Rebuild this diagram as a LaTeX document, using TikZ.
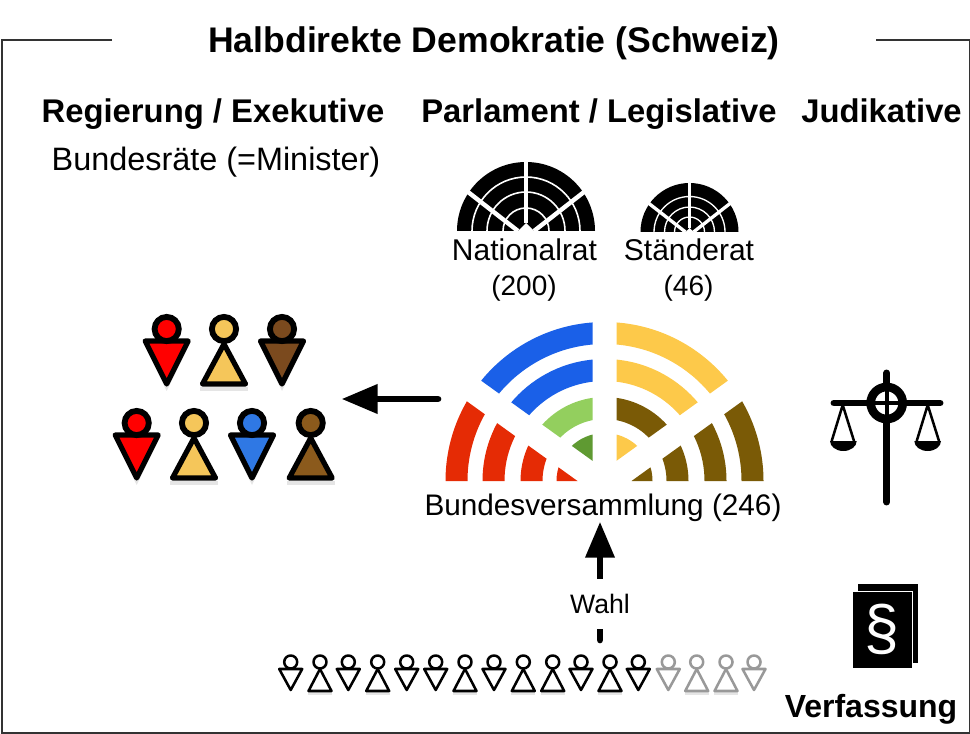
\documentclass[tikz,border=0pt]{standalone}
\usepackage{fontspec}
\setmainfont{Liberation Sans}
\usetikzlibrary{arrows.meta}
\definecolor{cblue}{HTML}{1A60E8}
\definecolor{cyel}{HTML}{FDC94A}
\definecolor{cgreen}{HTML}{93CF5E}
\definecolor{cdgreen}{HTML}{5F9A32}
\definecolor{cbrown}{HTML}{7A5A06}
\definecolor{cred}{HTML}{E52B05}
\definecolor{pred}{HTML}{FF0000}
\definecolor{pyel}{HTML}{F5C65A}
\definecolor{pbrown}{HTML}{7B4A1E}
\definecolor{pbrownb}{HTML}{8B5A1C}
\definecolor{pblue}{HTML}{2F78E4}
\definecolor{vgrey}{HTML}{999999}
\tikzset{
  lbl/.style={inner sep=0pt,font=\fontsize{22.5}{26}\selectfont},
  hdr/.style={inner sep=0pt,font=\fontsize{24.6}{28}\selectfont\bfseries},
  bigarrow/.style={line width=5pt,line cap=round,-{Triangle[length=27pt,width=21pt]}},
  bigfig/.style={line width=3.9pt,line join=round},
  bighead/.style={line width=4.4pt},
  smallfig/.style={line width=1.9pt,line join=round,fill=white},
  softshadow/.style={draw=none,fill=black,opacity=0.10},
}
% ring sector helper
\newcommand{\annul}[4]{\fill[#4,even odd rule] (#1) circle[radius=#2] (#1) circle[radius=#3];}
% persons: x,y,colour,style
\newcommand{\pdown}[4]{\begin{scope}[shift={(#1,#2)}]
 \fill[softshadow] (-23,15)--(23,15)--(0,62)--cycle;
 \draw[#4,fill=#3] (-21.5,12)--(21.5,12)--(0,55)--cycle;
 \draw[bighead,fill=#3] (0,0) circle[radius=12.1];\end{scope}}
\newcommand{\pup}[4]{\begin{scope}[shift={(#1,#2)}]
 \fill[softshadow] (-24,58)--(24,58)--(24,62)--(-24,62)--cycle;
 \draw[#4,fill=#3] (0,15)--(-21.5,55)--(21.5,55)--cycle;
 \draw[bighead,fill=#3] (0,0) circle[radius=12.1];\end{scope}}
\newcommand{\vdown}[2]{\begin{scope}[shift={(#1,662)}]
 \draw[smallfig,draw=#2] (-11.5,7)--(11.5,7)--(0,28)--cycle;
 \draw[smallfig,draw=#2] (0,0) circle[radius=6.5];\end{scope}}
\newcommand{\vup}[2]{\begin{scope}[shift={(#1,662)}]
 \fill[softshadow] (-12,30)--(12,30)--(12,33)--(-12,33)--cycle;
 \draw[smallfig,draw=#2] (0,7)--(-11.5,29)--(11.5,29)--cycle;
 \draw[smallfig,draw=#2] (0,0) circle[radius=6.5];\end{scope}}
% black hemicycle: cx, base y, R, r1,r2,r3, spoke foot, spoke width, ring width
\newcommand{\hemi}[9]{\begin{scope}[shift={(#1,#2)}]
 \begin{scope}
 \clip (-#3,0) rectangle (#3,-#3);
 \fill[black] (0,0) circle[radius=#3];
 \draw[white,line width=#9] (0,0) circle[radius=#4] (0,0) circle[radius=#5] (0,0) circle[radius=#6];
 \draw[white,line width=#8] (0,-#3) -- (0,-#7);
 \draw[white,line width=#8] (-#7,0) -- ++(-#3,-0.78*#3);
 \draw[white,line width=#8] (#7,0) -- ++(#3,-0.78*#3);
 \fill[white] (-#7,0) -- (#7,0) -- (0,-#7) -- cycle;
 \end{scope}\end{scope}}
\begin{document}
\begin{tikzpicture}[x=0.75pt,y=-0.75pt]
\useasboundingbox (0,0) rectangle (970,734);
% frame
\coordinate (fa) at (112,40); \coordinate (fb) at (2,40); \coordinate (fc) at (2,733);
\coordinate (fd) at (969.5,733); \coordinate (fe) at (969.5,40); \coordinate (ff) at (876,40);
\draw[line width=0.9pt,black!80] (fa)--(fb)--(fc)--(fd)--(fe)--(ff);
% texts
\node[hdr,font=\fontsize{26.7}{30}\selectfont\bfseries] (title) at (494,43.5) {Halbdirekte Demokratie (Schweiz)};
\node[hdr] (exe) at (213,114) {Regierung / Exekutive};
\node[hdr] (leg) at (599,114) {Parlament / Legislative};
\node[hdr] (jud) at (881.5,111) {Judikative};
\node[lbl,font=\fontsize{24.3}{28}\selectfont] (minister) at (216,162) {Bundesräte (=Minister)};
\node[lbl] (nr) at (524.5,250) {Nationalrat};
\node[lbl,font=\fontsize{21}{24}\selectfont] (nrn) at (524,288) {(200)};
\node[lbl] (sr) at (689,250) {Ständerat};
\node[lbl,font=\fontsize{21}{24}\selectfont] (srn) at (688.5,288) {(46)};
\node[lbl,font=\fontsize{22.3}{26}\selectfont] (bv) at (603,507.5) {Bundesversammlung (246)};
\node[hdr,font=\fontsize{24}{28}\selectfont\bfseries] (verf) at (871,709) {Verfassung};
% small hemicycles
\hemi{526}{231}{69}{54}{39}{23}{8}{3.3pt}{1.2pt}
\hemi{689.5}{232}{49}{35.5}{25}{15}{4}{2.5pt}{1pt}
% Bundesversammlung
\begin{scope}[shift={(604.5,481)}]
 \begin{scope}
  \clip (-27,0) -- (-200,0) -- (-200,-124.6) -- cycle;
  \annul{0,0}{159}{137}{cred}\annul{0,0}{122}{100}{cred}\annul{0,0}{84}{62}{cred}\annul{0,0}{48}{1}{cred}
 \end{scope}
 \begin{scope}
  \clip (27,0) -- (200,0) -- (200,-124.6) -- cycle;
  \annul{0,0}{159}{137}{cbrown}\annul{0,0}{122}{100}{cbrown}\annul{0,0}{84}{62}{cbrown}\annul{0,0}{48}{1}{cbrown}
 \end{scope}
 \begin{scope}
  \clip (-12,-20.2) -- (-12,-200) -- (-200,-200) -- (-200,-155.5) -- cycle;
  \annul{0,0}{159}{137}{cblue}\annul{0,0}{122}{100}{cblue}\annul{0,0}{84}{62}{cgreen}\annul{0,0}{48}{1}{cdgreen}
 \end{scope}
 \begin{scope}
  \clip (12,-20.2) -- (12,-200) -- (200,-200) -- (200,-155.5) -- cycle;
  \annul{0,0}{159}{137}{cyel}\annul{0,0}{122}{100}{cyel}\annul{0,0}{84}{62}{cbrown}\annul{0,0}{48}{1}{cyel}
 \end{scope}
\end{scope}
% arrows
\coordinate (parl) at (438,399); \coordinate (gov) at (341.5,399);
\draw[bigarrow] (parl) -- (gov);
\coordinate (votebase) at (600,640);
\draw[bigarrow] (votebase) -- (bv.south -| votebase);
\node[lbl,fill=white,font=\fontsize{20}{23}\selectfont,minimum height=37.5pt,minimum width=50pt] (wahl) at (600,604) {Wahl};
% government
\pdown{166.7}{329}{pred}{bigfig}
\pup{224}{329}{pyel}{bigfig}
\pdown{282}{329}{pbrown}{bigfig}
\pdown{136.7}{423}{pred}{bigfig}
\pup{194}{423}{pyel}{bigfig}
\pdown{252}{423}{pblue}{bigfig}
\pup{310.7}{423}{pbrownb}{bigfig}
% voters
\vdown{290.7}{black}\vup{320}{black}\vdown{348.3}{black}\vup{377.7}{black}\vdown{406.7}{black}\vdown{435.7}{black}
\vup{465}{black}\vdown{494}{black}\vup{523.3}{black}\vup{552.7}{black}\vdown{581}{black}\vup{610}{black}\vdown{638.3}{black}
\vdown{668.3}{vgrey}\vup{696.7}{vgrey}\vup{726}{vgrey}\vdown{754}{vgrey}
% scales
\begin{scope}[line cap=round]
 \draw[line width=5.2pt] (886.7,373) -- (886.7,385);
 \draw[line width=5.2pt] (886.7,420) -- (886.7,502);
 \draw[line width=5.2pt] (834,403) -- (866,403);
 \draw[line width=5.2pt] (907,403) -- (940,403);
 \draw[line width=3pt] (886.7,385) -- (886.7,420) (868,403) -- (905,403);
 \draw[line width=6.5pt] (886.7,403) circle[radius=16];
 \draw[line width=1.9pt,line join=round] (831.7,441) -- (842.7,405) -- (854,441);
 \draw[line width=1.9pt,line join=round] (916.7,441) -- (927.7,405) -- (939,441);
 \fill (856.7,441) arc[start angle=0,end angle=180,x radius=13.35,y radius=10] -- cycle;
 \fill (941,441) arc[start angle=0,end angle=180,x radius=13.35,y radius=10] -- cycle;
\end{scope}
% book
\fill[black] (858.3,584.3) rectangle (918.3,663.3);
\fill[black,draw=white,line width=0.7pt] (852.3,591) rectangle (912.7,668.3);
\node[inner sep=0pt,text=white,font=\fontsize{47}{50}\selectfont] (para) at (882,629.5) {§};
\end{tikzpicture}
\end{document}
